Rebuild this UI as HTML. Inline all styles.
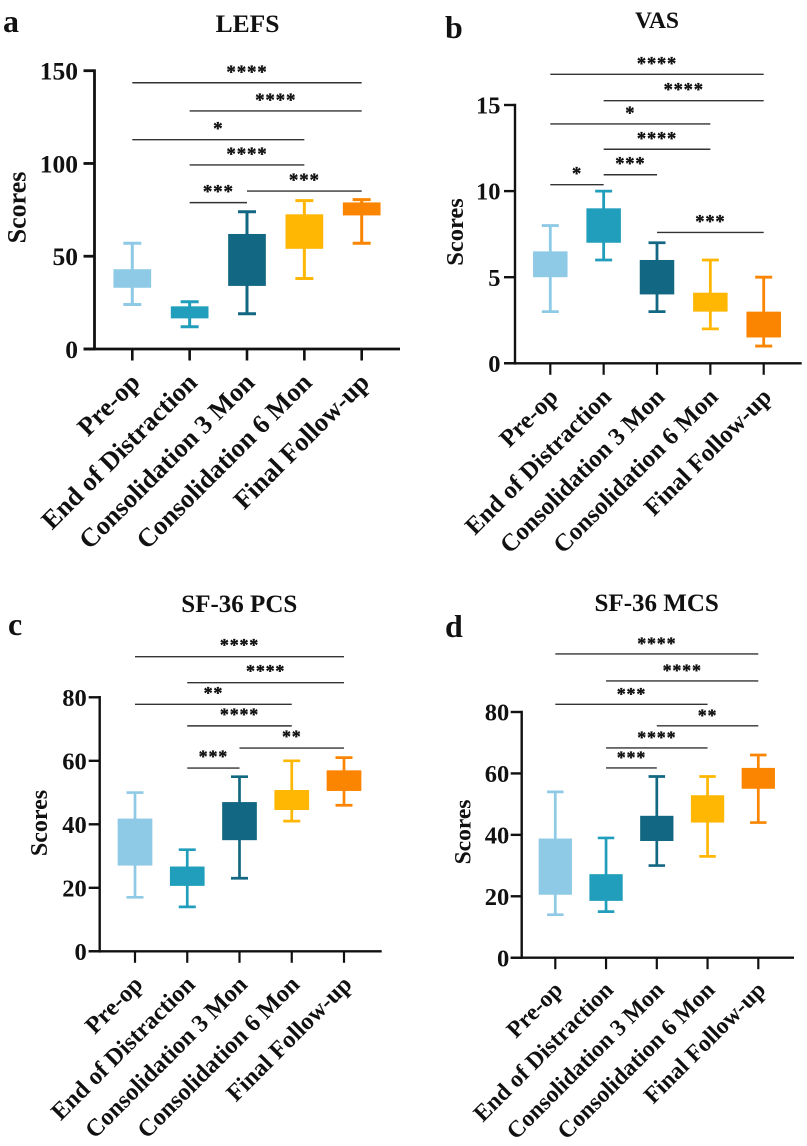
<!DOCTYPE html>
<html lang="en">
<head>
<meta charset="utf-8">
<title>Functional scores box plots</title>
<style>
html,body{margin:0;padding:0;background:#fff;width:807px;height:1146px;overflow:hidden}
svg{display:block;font-family:"Liberation Serif",serif;font-weight:bold;fill:#111}
</style>
</head>
<body>
<svg id="figure" xmlns="http://www.w3.org/2000/svg" width="807" height="1146" viewBox="0 0 807 1146"></svg>
<script>
const categories = ["Pre-op", "End of Distraction", "Consolidation 3 Mon", "Consolidation 6 Mon", "Final Follow-up"];
const boxColors = ["#8ecae6", "#219ebc", "#126782", "#ffb703", "#fb8500"];

const lefsMin = [24, 12, 19, 38, 57];
const lefsQ1 = [33, 16.5, 34, 54, 72];
const lefsQ3 = [43, 23, 62, 72.6, 79];
const lefsMax = [57, 25.5, 74, 80, 80.5];
const lefsTicks = [0, 50, 100, 150];
const lefsSigFrom = [0, 1, 0, 1, 2, 1];
const lefsSigTo = [4, 4, 3, 3, 4, 2];
const lefsSigLevel = [143.5, 128.3, 112.8, 99.2, 85.1, 78.9];
const lefsSigLabel = ["****", "****", "*", "****", "***", "***"];

const vasMin = [3, 6, 3, 2, 1];
const vasQ1 = [5, 7, 4, 3, 1.5];
const vasQ3 = [6.5, 9, 6, 4.1, 3];
const vasMax = [8, 10, 7, 6, 5];
const vasTicks = [0, 5, 10, 15];
const vasSigFrom = [0, 1, 0, 1, 1, 0, 2];
const vasSigTo = [4, 4, 3, 3, 2, 1, 4];
const vasSigLevel = [16.78, 15.25, 13.9, 12.43, 10.95, 10.37, 7.6];
const vasSigLabel = ["****", "****", "*", "****", "***", "*", "***"];

const pcsMin = [17, 14, 23, 41, 46];
const pcsQ1 = [27, 20.6, 35, 44.5, 50.5];
const pcsQ3 = [41.8, 26.7, 47, 50.8, 57];
const pcsMax = [50, 32, 55, 60, 61];
const pcsTicks = [0, 20, 40, 60, 80];
const pcsSigFrom = [0, 1, 0, 1, 2, 1];
const pcsSigTo = [4, 4, 3, 3, 4, 2];
const pcsSigLevel = [92.8, 84.6, 77.8, 71, 64, 57.7];
const pcsSigLabel = ["****", "****", "**", "****", "**", "***"];

const mcsMin = [14, 15, 30, 33, 44];
const mcsQ1 = [20.5, 18.5, 38, 44, 55];
const mcsQ3 = [38.8, 27.2, 46.2, 52.9, 61.8];
const mcsMax = [54, 39, 59, 59, 66];
const mcsTicks = [0, 20, 40, 60, 80];
const mcsSigFrom = [0, 1, 0, 2, 1, 1];
const mcsSigTo = [4, 4, 3, 4, 3, 2];
const mcsSigLevel = [98.9, 90.1, 82.5, 75.5, 68.3, 61.8];
const mcsSigLabel = ["****", "****", "***", "**", "****", "***"];

const SVGNS = "http://www.w3.org/2000/svg";
const figure = document.getElementById("figure");

function make(parent, tag, props, content) {
  const el = document.createElementNS(SVGNS, tag);
  for (const k in props) el.setAttribute(k, props[k]);
  if (content !== undefined) el.textContent = content;
  parent.appendChild(el);
  return el;
}

function slug(s) {
  return s.toLowerCase().replace(/[^a-z0-9]+/g, "-");
}

function drawPanel(p) {
  const group = make(figure, "g", {});
  
  

  const yScale = v => p.y0 - (v / p.yMax) * (p.y0 - p.yTop);
  const xScale = i => p.x0 + i * p.xStep;

  const letter = make(group, "text", {x: p.letterX, y: p.letterY, "font-size": 32}, p.letter);
  
  

  const title = make(group, "text", {x: p.titleX, y: p.titleY, "font-size": p.titleSize, "text-anchor": "middle"}, p.title);
  
  

  const yTitle = make(group, "text", {
    x: 0, y: 0, "font-size": p.yTitleSize, "text-anchor": "middle",
    transform: "translate(" + p.yTitleX + "," + p.yTitleY + ") rotate(-90)"
  }, "Scores");
  
  

  const yAxis = make(group, "line", {x1: p.axisX, x2: p.axisX, y1: yScale(p.yMax) - 1.3, y2: p.y0 + 1.3, stroke: "#111", "stroke-width": p.axisW});
  
  

  const xAxis = make(group, "line", {x1: p.axisX - 11, x2: p.axisEnd, y1: p.y0, y2: p.y0, stroke: "#111", "stroke-width": p.axisW});
  
  

  p.ticks.forEach(t => {
    const y = yScale(t);
    const tick = make(group, "line", {x1: p.axisX - 11, x2: p.axisX, y1: y, y2: y, stroke: "#111", "stroke-width": p.axisW});
    
    
    const label = make(group, "text", {x: p.axisX - p.tickGap, y: y + p.tickSize * 0.33 + 0.5, "font-size": p.tickSize, "text-anchor": "end"}, String(t));
    
    
  });

  categories.forEach((c, i) => {
    const x = xScale(i);
    const tick = make(group, "line", {x1: x, x2: x, y1: p.y0, y2: p.y0 + 11.5, stroke: "#111", "stroke-width": p.axisW - 0.2});
    
    
    const label = make(group, "text", {
      x: 0, y: 0, "font-size": p.xLabelSize, "text-anchor": "end",
      transform: "translate(" + (x + p.xLabelDx) + "," + (p.y0 + p.xLabelDy) + ") rotate(-45)"
    }, c);
    
    

    const color = boxColors[i];
    const box = make(group, "g", {});
    
    
    const yMin = yScale(p.min[i]), yQ1 = yScale(p.q1[i]), yQ3 = yScale(p.q3[i]), yMaxV = yScale(p.max[i]);
    make(box, "line", {x1: x, x2: x, y1: yMin, y2: yMaxV, stroke: color, "stroke-width": p.whiskerW});
    make(box, "line", {x1: x - p.capW / 2, x2: x + p.capW / 2, y1: yMin, y2: yMin, stroke: color, "stroke-width": p.whiskerW});
    make(box, "line", {x1: x - p.capW / 2, x2: x + p.capW / 2, y1: yMaxV, y2: yMaxV, stroke: color, "stroke-width": p.whiskerW});
    make(box, "rect", {x: x - p.boxW / 2, y: yQ3, width: p.boxW, height: yQ1 - yQ3, fill: color});
  });

  p.sigFrom.forEach((from, i) => {
    const x1 = xScale(from), x2 = xScale(p.sigTo[i]);
    const y = yScale(p.sigLevel[i]);
    const line = make(group, "line", {x1: x1, x2: x2, y1: y, y2: y, stroke: "#333", "stroke-width": 1.4});
    
    
    const stars = make(group, "text", {
      x: (x1 + x2) / 2, y: y + p.starDy, "font-size": p.starSize, "text-anchor": "middle", "letter-spacing": "0.8",
      stroke: "#111", "stroke-width": 0.35
    }, p.sigLabel[i]);
    
    
  });
}

drawPanel({key: "lefs", letter: "a", letterX: 3, letterY: 32, title: "LEFS", titleX: 247.5, titleY: 32, titleSize: 25.5,
  axisX: 94.5, axisEnd: 400, y0: 349, yTop: 70.7, yMax: 150, x0: 132.3, xStep: 57.35, boxW: 37.7, capW: 18, axisW: 2.8, whiskerW: 3,
  ticks: lefsTicks, tickSize: 25.5, tickGap: 16.5, yTitleX: 25.5, yTitleY: 207.5, yTitleSize: 26, xLabelSize: 26.3, xLabelDx: 9, xLabelDy: 35,
  min: lefsMin, q1: lefsQ1, q3: lefsQ3, max: lefsMax,
  sigFrom: lefsSigFrom, sigTo: lefsSigTo, sigLevel: lefsSigLevel, sigLabel: lefsSigLabel, starSize: 19, starDy: -5});

drawPanel({key: "vas", letter: "b", letterX: 445, letterY: 38, title: "VAS", titleX: 657, titleY: 28, titleSize: 23.5,
  axisX: 515, axisEnd: 801.7, y0: 363.3, yTop: 105, yMax: 15, x0: 550.3, xStep: 53.35, boxW: 34.5, capW: 17, axisW: 2.4, whiskerW: 2.8,
  ticks: vasTicks, tickSize: 24.5, tickGap: 14.5, yTitleX: 463, yTitleY: 232, yTitleSize: 24.5, xLabelSize: 24.7, xLabelDx: 9, xLabelDy: 35,
  min: vasMin, q1: vasQ1, q3: vasQ3, max: vasMax,
  sigFrom: vasSigFrom, sigTo: vasSigTo, sigLevel: vasSigLevel, sigLabel: vasSigLabel, starSize: 18.5, starDy: -5});

drawPanel({key: "sf36-pcs", letter: "c", letterX: 8, letterY: 635, title: "SF-36 PCS", titleX: 239.3, titleY: 612, titleSize: 25,
  axisX: 99.7, axisEnd: 381.7, y0: 951.3, yTop: 697.3, yMax: 80, x0: 135, xStep: 52.25, boxW: 34.7, capW: 17, axisW: 2.4, whiskerW: 2.7,
  ticks: pcsTicks, tickSize: 24.5, tickGap: 13, yTitleX: 47, yTitleY: 823, yTitleSize: 24, xLabelSize: 24.3, xLabelDx: 9, xLabelDy: 34.5,
  min: pcsMin, q1: pcsQ1, q3: pcsQ3, max: pcsMax,
  sigFrom: pcsSigFrom, sigTo: pcsSigTo, sigLevel: pcsSigLevel, sigLabel: pcsSigLabel, starSize: 18, starDy: -5.5});

drawPanel({key: "sf36-mcs", letter: "d", letterX: 445, letterY: 637, title: "SF-36 MCS", titleX: 656.7, titleY: 611, titleSize: 25,
  axisX: 521.7, axisEnd: 794, y0: 957.7, yTop: 712, yMax: 80, x0: 555.3, xStep: 50.75, boxW: 33.3, capW: 16.5, axisW: 2.4, whiskerW: 2.7,
  ticks: mcsTicks, tickSize: 24.5, tickGap: 12.5, yTitleX: 470.7, yTitleY: 832, yTitleSize: 23.5, xLabelSize: 23.6, xLabelDx: 8.5, xLabelDy: 33.5,
  min: mcsMin, q1: mcsQ1, q3: mcsQ3, max: mcsMax,
  sigFrom: mcsSigFrom, sigTo: mcsSigTo, sigLevel: mcsSigLevel, sigLabel: mcsSigLabel, starSize: 18, starDy: -4.5});
</script>
</body>
</html>
